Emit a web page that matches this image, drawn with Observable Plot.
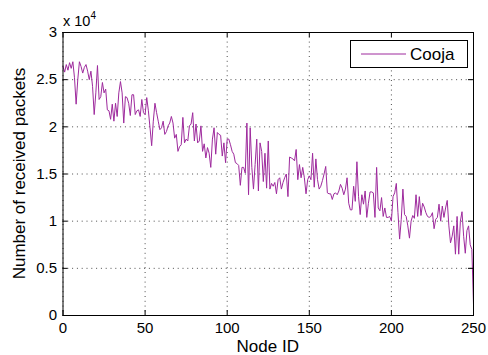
<!DOCTYPE html>
<html><head><meta charset="utf-8">
<script src="https://cdn.jsdelivr.net/npm/d3@7"></script>
<script src="https://cdn.jsdelivr.net/npm/@observablehq/plot@0.6"></script>
<style>body{margin:0;background:#fff}#chart{width:488px;height:355px}</style>
</head><body><div id="chart"></div>
<script>
// received packets per node, in units of 10^4
const packets = [
2.64,2.58,2.66,2.60,2.68,2.62,2.69,2.52,2.24,2.50,
2.69,2.64,2.57,2.63,2.66,2.59,2.50,2.59,2.43,2.13,
2.36,2.65,2.29,2.32,2.47,2.36,2.40,2.18,2.17,2.08,
2.24,2.06,2.25,2.11,2.36,2.48,2.36,2.04,2.32,2.31,
2.25,2.12,2.34,2.34,2.13,2.17,2.18,2.11,2.29,2.15,
2.13,2.31,2.17,1.99,1.80,2.06,2.25,2.15,2.06,1.97,
1.99,2.06,1.92,1.95,2.01,2.04,2.11,2.04,1.88,1.92,
1.74,1.79,1.81,2.10,1.83,1.87,1.85,2.01,2.03,2.15,
1.85,2.03,1.83,1.85,2.01,1.74,1.82,1.67,1.78,1.72,
1.57,1.87,1.99,1.71,1.94,1.92,1.91,1.69,1.83,1.62,
1.87,1.87,1.81,1.74,1.71,1.62,1.61,1.59,1.38,1.57,
1.57,1.51,2.04,1.28,1.99,1.57,1.34,1.60,1.87,1.32,
1.83,1.74,1.42,1.72,1.35,1.85,1.34,1.40,1.37,1.41,
1.29,1.44,1.46,1.34,1.41,1.46,1.50,1.26,1.68,1.67,
1.66,1.64,1.76,1.44,1.60,1.46,1.57,1.46,1.29,1.44,
1.48,1.44,1.72,1.36,1.66,1.44,1.34,1.37,1.43,1.50,
1.58,1.30,1.29,1.29,1.23,1.29,1.30,1.28,1.32,1.39,
1.35,1.28,1.34,1.46,1.19,1.12,1.12,1.37,1.21,1.63,
1.26,1.07,1.28,1.18,1.32,1.04,1.19,1.31,1.31,1.30,
1.04,1.57,1.14,1.11,1.25,1.05,1.14,1.04,1.04,1.05,
1.00,1.26,1.30,1.40,1.09,0.81,1.02,1.34,1.07,1.05,
0.95,0.82,1.00,1.06,1.03,1.28,1.05,1.26,1.06,1.19,
1.15,1.09,1.05,1.04,1.05,1.09,0.92,1.02,1.04,1.18,
1.00,1.16,1.04,1.14,1.22,0.95,0.77,0.84,0.95,0.65,
1.05,0.65,1.00,1.10,0.84,0.66,0.90,0.95,0.75,0.70,
0.12];
const xTicks = [0,50,100,150,200,250];
const yTicks = [0,0.5,1,1.5,2,2.5,3];
const seriesName = "Cooja";
const xTitle = "Node ID";
const yTitle = "Number of received packets";

const W=488,H=355,mL=62.5,mR=15,mT=32,mB=40;
const pw=W-mL-mR, ph=H-mT-mB;
const color="#9e2a9d";
const font="'Liberation Sans', Arial, Helvetica, sans-serif";
const data = packets.map((v,i)=>({node:i, value:v}));
const grid = {stroke:"#000", strokeOpacity:0.7, strokeDasharray:"1,3.8", strokeWidth:1};

const svg = Plot.plot({
  width:W, height:H, marginLeft:mL, marginRight:mR, marginTop:mT, marginBottom:mB,
  style:{fontFamily:font, fontSize:"15px", color:"#000", background:"#fff"},
  x:{domain:[0,250]}, y:{domain:[0,3]},
  marks:[
    Plot.gridX(xTicks, grid),
    Plot.gridY(yTicks, grid),
    Plot.line(data,{x:"node", y:"value", stroke:color, strokeWidth:1}),
    Plot.ruleX(xTicks,{insetTop:ph-5, stroke:"#000"}),
    Plot.ruleX(xTicks,{insetBottom:ph-5, stroke:"#000"}),
    Plot.ruleY(yTicks,{insetRight:pw-5, stroke:"#000"}),
    Plot.ruleY(yTicks,{insetLeft:pw-5, stroke:"#000"}),
    Plot.frame({stroke:"#000"}),
    Plot.axisX(xTicks,{tickSize:0, tickPadding:7, fontSize:15, label:null}),
    Plot.axisY(yTicks,{tickSize:0, tickPadding:6, fontSize:15, label:null, tickFormat:d=>String(d)})
  ]
});
document.getElementById("chart").appendChild(svg);
const s = d3.select(svg);
s.append("text").attr("x", mL+pw/2).attr("y", 352).attr("text-anchor","middle")
  .attr("font-size",17).attr("font-family",font).attr("fill","#000").text(xTitle);
s.append("text").attr("transform",`translate(25,${mT+ph/2}) rotate(-90)`).attr("text-anchor","middle")
  .attr("font-size",17).attr("font-family",font).attr("fill","#000").text(yTitle);
const ex = s.append("text").attr("x", 63).attr("y", 26).attr("text-anchor","start")
  .attr("font-size",14.5).attr("font-family",font).attr("fill","#000");
ex.append("tspan").text("x 10");
ex.append("tspan").attr("font-size",10).attr("dy",-7).text("4");
const lg = s.append("g");
lg.append("rect").attr("x",350.5).attr("y",40.5).attr("width",117).attr("height",27).attr("fill","#fff").attr("stroke","#000");
lg.append("line").attr("x1",361).attr("x2",406).attr("y1",54).attr("y2",54).attr("stroke",color).attr("stroke-width",1);
lg.append("text").attr("x",410).attr("y",60).attr("text-anchor","start")
  .attr("font-size",17).attr("font-family",font).attr("fill","#000").text(seriesName);
</script>
</body></html>
